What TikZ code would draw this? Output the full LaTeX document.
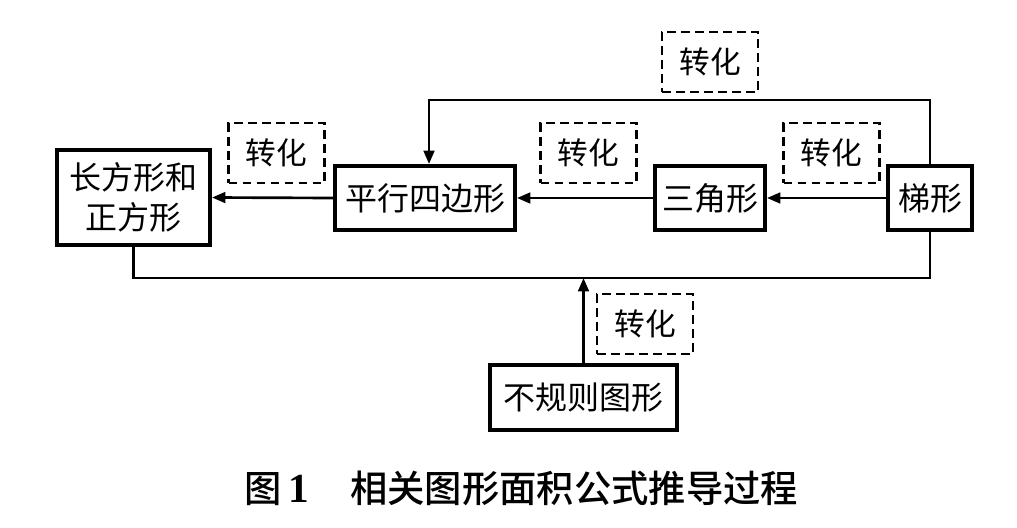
\documentclass[tikz,border=0pt]{standalone}
\usepackage{fontspec}
\newfontfamily\cjk{Noto Sans CJK SC}
\newfontfamily\cjkm{Noto Sans CJK SC}[UprightFont={* Medium}]
\newfontfamily\numfont{Liberation Serif}
\usetikzlibrary{arrows.meta,calc}
\begin{document}
\begin{tikzpicture}[x=0.75pt,y=-0.75pt,
  box/.style={draw,line width=3pt,rectangle,inner sep=0pt,align=center,font=\cjk\fontsize{24pt}{30pt}\selectfont},
  tag/.style={draw,line width=1.9pt,dash pattern=on 6.5pt off 4pt,rectangle,inner sep=0pt,minimum width=72pt,minimum height=45pt,font=\cjk\fontsize{23pt}{28pt}\selectfont},
  conn/.style={line width=2pt},
  arr/.style={conn,-{Triangle[length=10pt,width=8pt]}}]
\useasboundingbox (0,0) rectangle (1017,528);
% main boxes
\node[box,minimum width=114.75pt,minimum height=71.25pt] (A) at (133.5,197.5) {长方形和\\正方形};
\node[box,minimum width=135pt,minimum height=48pt] (B) at (425,198) {平行四边形};
\node[box,minimum width=82.5pt,minimum height=48pt] (C) at (710,198) {三角形};
\node[box,minimum width=63pt,minimum height=48pt] (D) at (930,198) {梯形};
\node[box,minimum width=140.25pt,minimum height=48.75pt] (E) at (583.5,397.5) {不规则图形};
% dashed labels
\node[tag] (t0) at (710,62) {转化};
\node[tag] (t1) at (276.5,153) {转化};
\node[tag] (t2) at (588.5,153) {转化};
\node[tag] (t3) at (831.5,153) {转化};
\node[tag] (t4) at (645,324) {转化};
% connectors
\draw[arr] (D.west) -- (C.east);
\draw[arr] (C.west) -- (B.east);
\draw[arr] (B.west) -- (A.east);
\coordinate (loopy) at (0,100);
\coordinate (boty) at (0,278);
\coordinate (Bin) at ($(B.north)+(4,0)$);
\draw[arr] (D.north) -- (D.north |- loopy) -- (Bin |- loopy) -- (Bin);
\draw[conn] (A.south) -- (A.south |- boty) -- (D.south |- boty) -- (D.south);
\draw[arr] (E.north) -- (E.north |- boty);
% caption
\node[font=\cjkm\fontsize{28pt}{34pt}\selectfont,anchor=west] (cap) at (240,488) {图\,{\numfont\bfseries\fontsize{31pt}{34pt}\selectfont 1}\hspace{1.1em}相关图形面积公式推导过程};
\end{tikzpicture}
\end{document}
